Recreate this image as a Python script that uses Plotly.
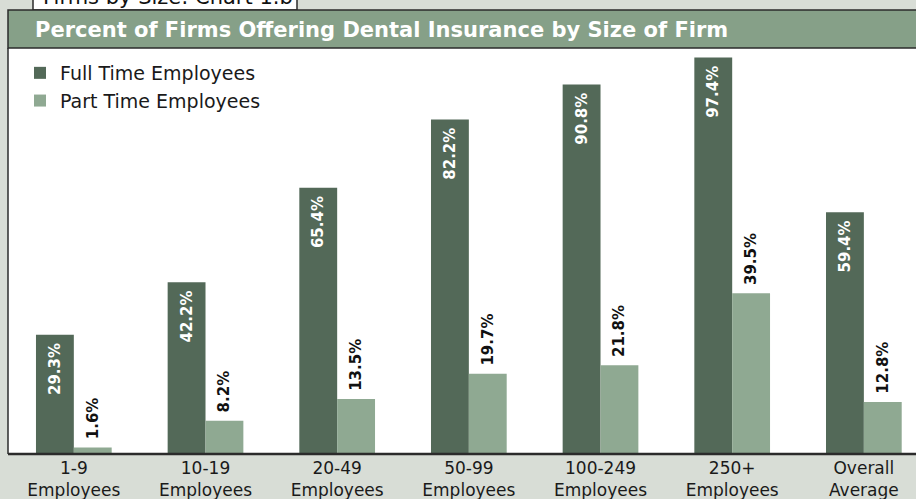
import plotly.graph_objects as go

categories = ["1-9<br>Employees", "10-19<br>Employees", "20-49<br>Employees",
              "50-99<br>Employees", "100-249<br>Employees", "250+<br>Employees",
              "Overall<br>Average"]
full_time = [29.3, 42.2, 65.4, 82.2, 90.8, 97.4, 59.4]
part_time = [1.6, 8.2, 13.5, 19.7, 21.8, 39.5, 12.8]
series_names = ["Full Time Employees", "Part Time Employees"]
chart_title = "Percent of Firms Offering Dental Insurance by Size of Firm"
header_text = "Firms by Size: Chart 1.b"

W, H = 916, 499
FT_COLOR = "#536958"
PT_COLOR = "#8fa992"
BAND_COLOR = "#86a088"
BG = "#d8ddd6"
LINE = "#2b2b2b"
FONT = "DejaVu Sans"
NB = "\u00a0"


def px(x):
    return x / W


def py(y):
    return 1 - y / H


fig = go.Figure()
fig.add_trace(go.Bar(
    x=categories, y=full_time, name=series_names[0],
    marker=dict(color=FT_COLOR, line=dict(width=0)),
    text=[f"{v:.1f}%{NB}" for v in full_time],
    textposition="inside", insidetextanchor="end", textangle=-90,
    textfont=dict(family=FONT, size=15, color="white", weight="bold"),
    constraintext="none",
))
fig.add_trace(go.Bar(
    x=categories, y=part_time, name=series_names[1],
    marker=dict(color=PT_COLOR, line=dict(width=0)),
    text=[f"{NB}{v:.1f}%" for v in part_time],
    textposition="outside", textangle=-90,
    textfont=dict(family=FONT, size=15, color="#111111", weight="bold"),
    constraintext="none", cliponaxis=False,
))

cat_px = 131.67
shapes = [
    # header box (cropped at top)
    dict(type="rect", xref="paper", yref="paper", x0=px(33), x1=px(297), y0=py(10), y1=py(-5),
         fillcolor="white", line=dict(color=LINE, width=1.5), layer="above"),
    # title band
    dict(type="rect", xref="paper", yref="paper", x0=px(8), x1=px(925), y0=py(48), y1=py(10),
         fillcolor=BAND_COLOR, line=dict(color=LINE, width=1.5), layer="above"),
    # left border of plot
    dict(type="line", xref="paper", yref="paper", x0=px(8), x1=px(8), y0=py(454), y1=py(48),
         line=dict(color=LINE, width=1.5), layer="above"),
    # baseline
    dict(type="line", xref="paper", yref="paper", x0=px(8), x1=px(920), y0=py(454), y1=py(454),
         line=dict(color=LINE, width=2.5), layer="above"),
]

annotations = [
    dict(text=header_text, xref="paper", yref="paper", x=px(41), y=py(-3), xanchor="left",
         yanchor="middle", showarrow=False, font=dict(family=FONT, size=21, color="#111111")),
    dict(text=chart_title, xref="paper", yref="paper", x=px(33), y=py(30), xanchor="left",
         yanchor="middle", showarrow=False,
         font=dict(family=FONT, size=21, color="white", weight="bold")),
]

fig.update_layout(
    width=W, height=H,
    margin=dict(l=0, r=0, t=0, b=0, autoexpand=False),
    paper_bgcolor=BG, plot_bgcolor="white",
    barmode="group", bargap=0.425, bargroupgap=0,
    showlegend=True,
    legend=dict(x=px(20), y=py(54), xanchor="left", yanchor="top",
                bgcolor="rgba(0,0,0,0)", font=dict(family=FONT, size=19, color="#1a1a1a"),
                itemwidth=30, traceorder="normal", tracegroupgap=0),
    shapes=shapes, annotations=annotations,
    xaxis=dict(domain=[px(8), 1], range=[-0.5, -0.5 + (W - 8) / cat_px],
               showgrid=False, zeroline=False, showline=False, ticks="",
               automargin=False, ticklabelstandoff=2,
               tickfont=dict(family=FONT, size=17, color="#1a1a1a")),
    yaxis=dict(domain=[py(454), py(47)], range=[0, 100], showgrid=False, zeroline=False,
               showticklabels=False, showline=False, automargin=False),
    font=dict(family=FONT),
)

fig.write_html("out.html", config={"displayModeBar": False},
               post_script="document.body.style.margin='0';document.body.style.overflow='hidden';")
